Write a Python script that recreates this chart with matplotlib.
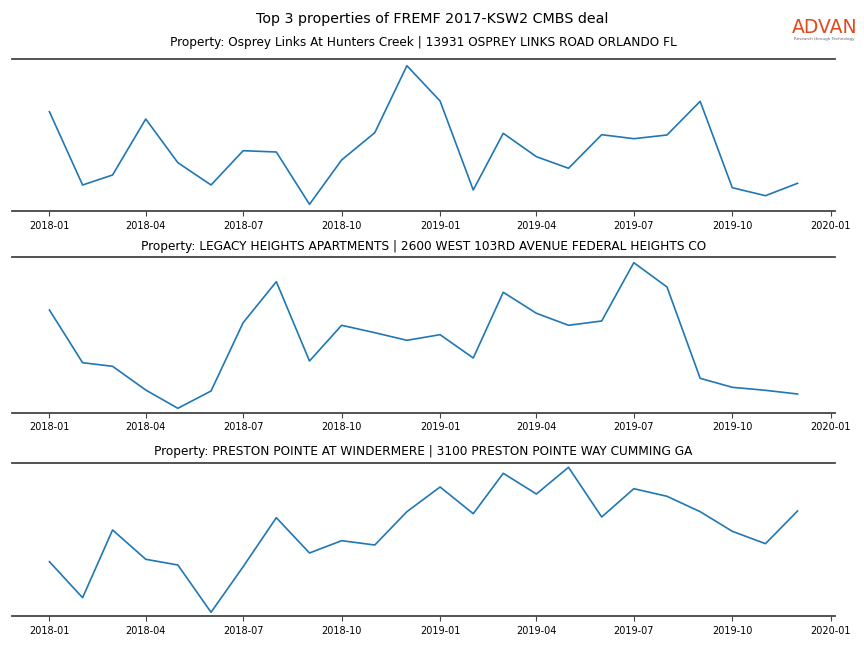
import matplotlib
matplotlib.use('Agg')
import matplotlib.pyplot as plt
import matplotlib.dates as mdates
import pandas as pd

# monthly observations, 2018-01 .. 2019-12
months = pd.date_range('2018-01-01', '2019-12-01', freq='MS')

titles = [
    'Property: Osprey Links At Hunters Creek | 13931 OSPREY LINKS ROAD ORLANDO FL',
    'Property: LEGACY HEIGHTS APARTMENTS | 2600 WEST 103RD AVENUE FEDERAL HEIGHTS CO',
    'Property: PRESTON POINTE AT WINDERMERE | 3100 PRESTON POINTE WAY CUMMING GA',
]

osprey = [99.3, 26.0, 36.0, 92.0, 48.3, 26.0, 60.3, 59.0, 6.7, 51.0, 78.3, 145.3,
          110.0, 21.0, 77.7, 54.3, 42.7, 76.3, 72.3, 76.0, 109.7, 23.3, 15.3, 27.7]
legacy = [102.7, 50.0, 46.4, 22.7, 4.4, 21.7, 90.0, 131.0, 51.7, 87.4, 80.0, 72.4,
          78.0, 54.7, 120.4, 99.4, 87.4, 91.7, 150.0, 125.7, 34.4, 25.4, 22.4, 18.7]
preston = [54.3, 18.3, 86.0, 56.7, 51.0, 3.7, 49.3, 98.3, 63.0, 75.3, 71.0, 104.3,
           129.0, 102.3, 142.7, 122.0, 148.7, 99.0, 127.3, 119.7, 104.3, 84.7, 72.3, 105.0]

series = [osprey, legacy, preston]

fig = plt.figure(figsize=(8.64, 6.48), dpi=100)

# axes boxes [left, bottom, width, height]
boxes = [
    [0.0139, 0.6744, 0.9525, 0.2350],
    [0.0139, 0.3631, 0.9525, 0.2408],
    [0.0139, 0.0494, 0.9525, 0.2361],
]
ylims = [152.3, 156.0, 153.0]
pads = [9, 4.7, 6.1]

for box, title, vals, ytop, pad in zip(boxes, titles, series, ylims, pads):
    ax = fig.add_axes(box)
    ax.plot(months, vals, color='#1f77b4', linewidth=1.2)
    ax.set_title(title, fontsize=8.7, pad=pad)
    ax.set_ylim(0, ytop)

    # only top and bottom spines, no y axis
    for side in ['left', 'right']:
        ax.spines[side].set_visible(False)
    for side in ['top', 'bottom']:
        ax.spines[side].set_color('#444444')
        ax.spines[side].set_linewidth(1.3)
    ax.set_yticks([])

    ax.xaxis.set_major_locator(mdates.MonthLocator(bymonth=[1, 4, 7, 10]))
    ax.xaxis.set_major_formatter(mdates.DateFormatter('%Y-%m'))
    ax.tick_params(axis='x', labelsize=7, length=3.5, width=0.8, color='#444444')

fig.text(0.5, 0.97, 'Top 3 properties of FREMF 2017-KSW2 CMBS deal',
         ha='center', va='center', fontsize=10.3)

# ADVAN logo
fig.text(0.954, 0.957, 'ADVAN', ha='center', va='center', fontsize=13.5,
         color='#e04a1f')
fig.text(0.954, 0.940, 'Research through Technology', ha='center', va='center',
         fontsize=3, color='#666666')

plt.savefig('out.png', dpi=100)
